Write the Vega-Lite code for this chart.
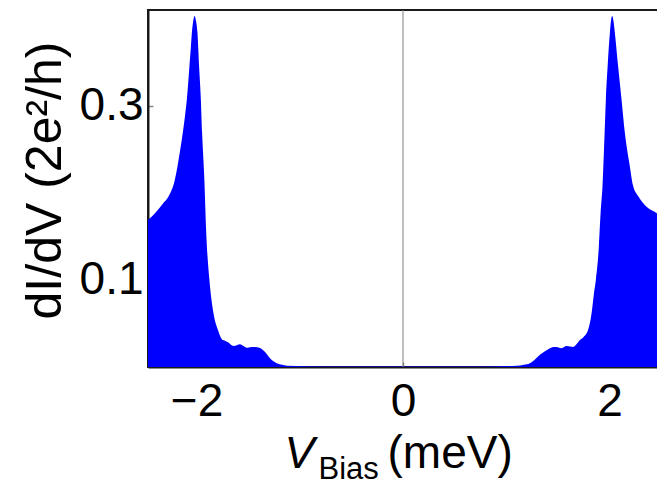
{
  "$schema": "https://vega.github.io/schema/vega-lite/v6.json",
  "width": 510,
  "height": 357,
  "autosize": {"type": "none"},
  "padding": {"left": 148, "top": 10, "right": 0, "bottom": 120},
  "background": "white",
  "config": {
    "view": {"stroke": "#1a1a1a", "strokeWidth": 2},
    "font": "Liberation Sans"
  },
  "resolve": {"axis": {"x": "independent"}},
  "layer": [
    {
      "data": {
        "values": [
          {"v": -2.47, "g": 0.169}, {"v": -2.40, "g": 0.177}, {"v": -2.33, "g": 0.187}, {"v": -2.27, "g": 0.196},
          {"v": -2.21, "g": 0.215}, {"v": -2.185, "g": 0.230}, {"v": -2.16, "g": 0.248}, {"v": -2.133, "g": 0.269},
          {"v": -2.11, "g": 0.290}, {"v": -2.094, "g": 0.307}, {"v": -2.08, "g": 0.327}, {"v": -2.069, "g": 0.345},
          {"v": -2.055, "g": 0.367}, {"v": -2.045, "g": 0.384}, {"v": -2.032, "g": 0.397}, {"v": -2.020, "g": 0.403},
          {"v": -2.006, "g": 0.398}, {"v": -1.991, "g": 0.384}, {"v": -1.975, "g": 0.345}, {"v": -1.958, "g": 0.307},
          {"v": -1.946, "g": 0.269}, {"v": -1.924, "g": 0.215}, {"v": -1.907, "g": 0.157}, {"v": -1.875, "g": 0.100},
          {"v": -1.836, "g": 0.062}, {"v": -1.794, "g": 0.043}, {"v": -1.755, "g": 0.032}, {"v": -1.72, "g": 0.030},
          {"v": -1.691, "g": 0.028}, {"v": -1.643, "g": 0.024}, {"v": -1.61, "g": 0.025}, {"v": -1.578, "g": 0.026},
          {"v": -1.545, "g": 0.024}, {"v": -1.513, "g": 0.022}, {"v": -1.47, "g": 0.023}, {"v": -1.433, "g": 0.023},
          {"v": -1.39, "g": 0.022}, {"v": -1.352, "g": 0.019}, {"v": -1.32, "g": 0.015}, {"v": -1.288, "g": 0.010},
          {"v": -1.255, "g": 0.0065}, {"v": -1.223, "g": 0.0043}, {"v": -1.17, "g": 0.0025}, {"v": -1.126, "g": 0.0015},
          {"v": -0.93, "g": 0.0009}, {"v": -0.6, "g": 0.0006}, {"v": -0.3, "g": 0.0005}, {"v": 0, "g": 0.0005},
          {"v": 0.3, "g": 0.0005}, {"v": 0.6, "g": 0.0006}, {"v": 0.93, "g": 0.0009}, {"v": 1.101, "g": 0.0013},
          {"v": 1.17, "g": 0.0025}, {"v": 1.229, "g": 0.0043}, {"v": 1.28, "g": 0.009}, {"v": 1.326, "g": 0.014},
          {"v": 1.375, "g": 0.018}, {"v": 1.423, "g": 0.0215}, {"v": 1.455, "g": 0.023}, {"v": 1.488, "g": 0.023},
          {"v": 1.536, "g": 0.0215}, {"v": 1.585, "g": 0.024}, {"v": 1.62, "g": 0.0235}, {"v": 1.649, "g": 0.023},
          {"v": 1.68, "g": 0.026}, {"v": 1.713, "g": 0.031}, {"v": 1.745, "g": 0.034}, {"v": 1.794, "g": 0.043},
          {"v": 1.827, "g": 0.062}, {"v": 1.85, "g": 0.085}, {"v": 1.868, "g": 0.100}, {"v": 1.897, "g": 0.138},
          {"v": 1.914, "g": 0.177}, {"v": 1.933, "g": 0.209}, {"v": 1.953, "g": 0.269}, {"v": 1.965, "g": 0.307},
          {"v": 1.982, "g": 0.345}, {"v": 2.004, "g": 0.384}, {"v": 2.015, "g": 0.398}, {"v": 2.026, "g": 0.403},
          {"v": 2.038, "g": 0.398}, {"v": 2.052, "g": 0.384}, {"v": 2.084, "g": 0.345}, {"v": 2.117, "g": 0.307},
          {"v": 2.149, "g": 0.269}, {"v": 2.198, "g": 0.230}, {"v": 2.227, "g": 0.209}, {"v": 2.279, "g": 0.196},
          {"v": 2.359, "g": 0.184}, {"v": 2.456, "g": 0.177}, {"v": 2.47, "g": 0.176}
        ]
      },
      "mark": {"type": "area", "color": "#0000ff", "clip": true, "interpolate": "monotone"},
      "encoding": {
        "x": {
          "field": "v", "type": "quantitative",
          "scale": {"domain": [-2.47, 2.47], "nice": false, "zero": false},
          "axis": {
            "orient": "bottom", "values": [-2, 0, 2], "grid": false,
            "domainColor": "#1a1a1a", "domainWidth": 2,
            "tickColor": "#888888", "tickSize": -5, "tickWidth": 1.5,
            "labelFontSize": 46, "labelPadding": 17, "labelColor": "#000000",
            "title": "V", "titleFontSize": 45, "titleFontStyle": "italic", "titleFontWeight": "normal",
            "titleColor": "#000000", "titleAlign": "left", "titleBaseline": "alphabetic",
            "titleX": 136, "titleY": 100
          }
        },
        "y": {
          "field": "g", "type": "quantitative",
          "scale": {"domain": [0, 0.41], "nice": false},
          "axis": {
            "values": [0.1, 0.3], "grid": false,
            "domainColor": "#1a1a1a", "domainWidth": 2,
            "tickColor": "#888888", "tickSize": -5, "tickWidth": 1.5,
            "labelFontSize": 46, "labelPadding": 10, "labelColor": "#000000",
            "title": "dI/dV (2e²/h)", "titleFontSize": 50, "titleFontWeight": "normal",
            "titleColor": "#000000", "titleAngle": -90, "titleAlign": "center", "titleBaseline": "alphabetic",
            "titleX": -88, "titleY": 170
          }
        }
      }
    },
    {
      "data": {"values": [{"v": 0}]},
      "mark": {"type": "rule", "color": "#808080", "strokeWidth": 1},
      "encoding": {
        "x": {
          "field": "v", "type": "quantitative",
          "scale": {"domain": [-2.47, 2.47], "nice": false, "zero": false},
          "axis": {
            "orient": "bottom", "labels": false, "ticks": false, "domain": false, "grid": false,
            "title": "Bias", "titleFontSize": 31, "titleFontWeight": "normal", "titleColor": "#000000",
            "titleAlign": "left", "titleBaseline": "alphabetic", "titleX": 170, "titleY": 111
          }
        }
      }
    },
    {
      "data": {"values": [{"v": 0}]},
      "mark": {"type": "rule", "color": "#808080", "strokeWidth": 1, "strokeOpacity": 0},
      "encoding": {
        "x": {
          "field": "v", "type": "quantitative",
          "scale": {"domain": [-2.47, 2.47], "nice": false, "zero": false},
          "axis": {
            "orient": "bottom", "labels": false, "ticks": false, "domain": false, "grid": false,
            "title": "(meV)", "titleFontSize": 46, "titleFontWeight": "normal", "titleColor": "#000000",
            "titleAlign": "left", "titleBaseline": "alphabetic", "titleX": 239, "titleY": 100
          }
        }
      }
    }
  ]
}
